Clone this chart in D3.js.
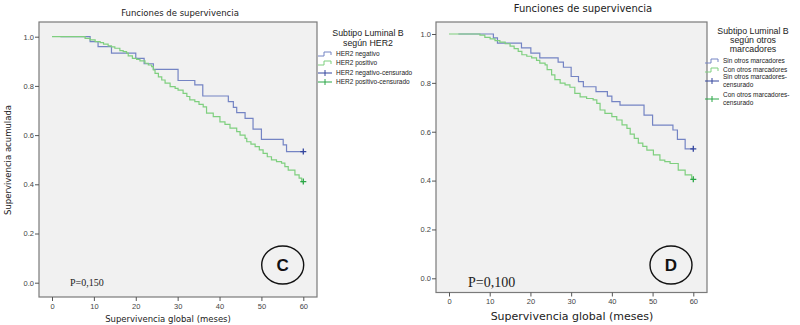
<!DOCTYPE html>
<html>
<head>
<meta charset="utf-8">
<script src="https://cdnjs.cloudflare.com/ajax/libs/d3/7.8.5/d3.min.js"></script>
<style>
  body { margin: 0; background: #fff; }
  svg { display: block; }
  .tick text { fill: #444; font-family: "Liberation Sans", Arial, sans-serif; font-size: 7.5px; }
  .tick line { stroke: #555; }
</style>
</head>
<body>
<svg id="chart" width="800" height="325"></svg>
<script>
const xTicks = [0, 10, 20, 30, 40, 50, 60];
const yTicks = [0, 0.2, 0.4, 0.6, 0.8, 1.0];

// panel C: [mes, supervivencia]
const her2Neg = [[2, 1], [9.1, 0.98], [11.0, 0.96], [14.2, 0.933], [20.0, 0.912], [22.0, 0.89],
  [24.2, 0.867], [30.1, 0.822], [34.1, 0.804], [36.0, 0.759], [42.1, 0.736], [43.3, 0.713],
  [44.1, 0.691], [46.1, 0.668], [48.0, 0.624], [50.0, 0.583], [55.2, 0.56], [56.0, 0.533]];
const her2Pos = [[0, 1], [7.9, 0.993], [9.1, 0.987], [10.3, 0.98], [11.5, 0.976], [12.3, 0.97],
  [13.4, 0.963], [14.2, 0.959], [15.0, 0.953], [16.2, 0.943], [17.0, 0.939], [17.8, 0.933],
  [18.2, 0.922], [19.2, 0.912], [20.2, 0.908], [21.0, 0.902], [22.2, 0.892], [23.0, 0.885],
  [23.8, 0.878], [24.2, 0.865], [24.6, 0.851], [25.4, 0.837], [26.2, 0.824], [27.0, 0.811],
  [28.2, 0.797], [29.4, 0.79], [30.1, 0.783], [31.3, 0.77], [32.2, 0.757], [32.9, 0.743],
  [34.1, 0.736], [35.1, 0.725], [36.1, 0.715], [36.9, 0.689], [38.5, 0.675], [40.1, 0.654],
  [41.3, 0.644], [42.5, 0.628], [44.1, 0.614], [44.9, 0.6], [46.1, 0.587], [46.5, 0.573],
  [47.5, 0.563], [48.5, 0.553], [49.5, 0.54], [50.4, 0.526], [51.4, 0.512], [52.4, 0.499],
  [53.6, 0.492], [54.8, 0.486], [55.6, 0.472], [56.4, 0.458], [58.0, 0.438], [59.0, 0.425],
  [59.6, 0.411]];

// panel D
const sinOtros = [[2.3, 1], [10.9, 0.984], [11.9, 0.963], [17.8, 0.943], [20.1, 0.922], [22.3, 0.902],
  [26.8, 0.885], [28.1, 0.864], [30.0, 0.826], [31.8, 0.805], [33.0, 0.784], [36.1, 0.764],
  [38.9, 0.746], [40.0, 0.723], [42.0, 0.709], [47.9, 0.668], [50.0, 0.627], [55.0, 0.607],
  [56.1, 0.569], [58.0, 0.53]];
const conOtros = [[0, 1], [7.6, 0.995], [8.8, 0.986], [10.1, 0.98], [11.3, 0.973], [12.5, 0.967],
  [13.8, 0.96], [15.0, 0.95], [16.0, 0.94], [17.0, 0.929], [17.9, 0.915], [19.1, 0.909],
  [20.3, 0.902], [21.5, 0.892], [22.3, 0.881], [23.6, 0.874], [24.1, 0.854], [25.2, 0.833],
  [26.0, 0.813], [27.3, 0.799], [28.5, 0.792], [29.7, 0.782], [30.9, 0.757], [32.2, 0.743],
  [33.8, 0.736], [35.4, 0.73], [36.3, 0.716], [37.1, 0.689], [38.3, 0.675], [40.0, 0.662],
  [41.2, 0.648], [42.5, 0.628], [43.7, 0.614], [44.5, 0.59], [45.5, 0.573], [46.5, 0.553],
  [47.6, 0.54], [48.6, 0.525], [50.2, 0.505], [51.8, 0.484], [53.0, 0.478], [54.3, 0.47],
  [56.3, 0.443], [58.0, 0.423], [59.6, 0.405]];

const endTime = 60;
const legendC = ["HER2 negativo", "HER2 positivo", "HER2 negativo-censurado", "HER2 positivo-censurado"];
const legendD = ["Sin otros marcadores", "Con otros marcadores", "Sin otros marcadores-|censurado", "Con otros marcadores-|censurado"];

const blueLine = "#7484c4", greenLine = "#7fcf7f";
const blueMark = "#34469e", greenMark = "#2aa646";
const svg = d3.select("#chart");

function drawPanel(p) {
  const g = svg.append("g");
  const x = d3.scaleLinear().domain([0, 60]).range(p.xr);
  const y = d3.scaleLinear().domain([0, 1]).range(p.yr);

  g.append("rect")
    .attr("x", p.box[0]).attr("y", p.box[1])
    .attr("width", p.box[2] - p.box[0]).attr("height", p.box[3] - p.box[1])
    .attr("fill", "#f1f1f1").attr("stroke", "#7a7a7a").attr("stroke-width", 1.2);

  const ya = g.append("g")
    .attr("transform", `translate(${p.box[0]},0)`)
    .call(d3.axisLeft(y).tickValues(yTicks).tickFormat(d3.format(".1f")).tickSize(4).tickPadding(1));
  ya.select(".domain").remove();

  const xa = g.append("g")
    .attr("transform", `translate(0,${p.box[3]})`)
    .call(d3.axisBottom(x).tickValues(xTicks).tickSize(4).tickPadding(p.xPad));
  xa.select(".domain").remove();

  const line = d3.line().curve(d3.curveStepAfter).x(d => x(d[0])).y(d => y(d[1]));
  p.series.forEach(s => {
    const pts = s.data.concat([[endTime, s.data[s.data.length - 1][1]]]);
    g.append("path").attr("d", line(pts))
      .attr("fill", "none").attr("stroke", s.color).attr("stroke-width", 1.2);
    const cx = x(endTime), cy = y(s.data[s.data.length - 1][1]);
    g.append("path").attr("d", `M${cx - 3},${cy}H${cx + 3}M${cx},${cy - 3}V${cy + 3}`)
      .attr("stroke", s.mark).attr("stroke-width", 1.3);
  });

  // titulo
  g.append("text").attr("x", p.title[0]).attr("y", p.title[1])
    .attr("text-anchor", "middle").attr("font-family", "DejaVu Sans, sans-serif")
    .attr("font-size", p.title[2]).attr("fill", "#222").text("Funciones de supervivencia");

  g.append("text").attr("x", p.xTitle[0]).attr("y", p.xTitle[1])
    .attr("text-anchor", "middle").attr("font-family", "DejaVu Sans, sans-serif")
    .attr("font-size", p.xTitle[2]).attr("fill", "#222").text("Supervivencia  global (meses)");

  if (p.yTitle) {
    g.append("text").attr("transform", `translate(${p.yTitle[0]},${p.yTitle[1]}) rotate(-90)`)
      .attr("text-anchor", "middle").attr("font-family", "DejaVu Sans, sans-serif")
      .attr("font-size", 8.5).attr("fill", "#222").text("Supervivencia acumulada");
  }

  // leyenda
  p.legTitle.forEach((t, i) => {
    g.append("text").attr("x", p.legX).attr("y", p.legY + i * p.legStep)
      .attr("text-anchor", "middle").attr("font-family", "Liberation Sans, Arial, sans-serif")
      .attr("font-size", 8.8).attr("fill", "#222").text(t);
  });
  const cols = [[blueLine, false], [greenLine, false], [blueMark, true], [greenMark, true]];
  p.items.forEach((label, i) => {
    const iy = p.itemY[i], sx = p.symX;
    if (!cols[i][1]) {
      g.append("path").attr("d", `M${sx},${iy + 2}H${sx + 6}V${iy - 2}H${sx + 13}V${iy + 1}`)
        .attr("fill", "none").attr("stroke", cols[i][0]).attr("stroke-width", 1);
    } else {
      g.append("path").attr("d", `M${sx},${iy}H${sx + 14}M${sx + 7},${iy - 3}V${iy + 3}`)
        .attr("stroke", cols[i][0]).attr("stroke-width", 1);
    }
    const lines = label.split("|");
    lines.forEach((l, j) => {
      g.append("text").attr("x", sx + 18)
        .attr("y", iy + 2.3 + (j - (lines.length - 1) / 2) * 8)
        .attr("font-family", "Liberation Sans, Arial, sans-serif")
        .attr("font-size", 6.5).attr("fill", "#222").text(l);
    });
  });

  // etiqueta del panel
  g.append("ellipse").attr("cx", p.tag[0]).attr("cy", p.tag[1]).attr("rx", 21).attr("ry", 19)
    .attr("fill", "none").attr("stroke", "#111").attr("stroke-width", 1.4);
  g.append("text").attr("x", p.tag[0]).attr("y", p.tag[1] + 6)
    .attr("text-anchor", "middle").attr("font-family", "Liberation Sans, Arial, sans-serif")
    .attr("font-weight", "bold").attr("font-size", 17).attr("fill", "#111").text(p.tag[2]);

  g.append("text").attr("x", p.pval[0]).attr("y", p.pval[1])
    .attr("font-family", "Liberation Serif, Times New Roman, serif")
    .attr("font-size", p.pval[2]).attr("fill", "#222").text(p.pval[3]);
}

drawPanel({
  box: [39, 22, 317, 297], xr: [52, 303.3], yr: [282.7, 36.7], xPad: 3,
  series: [{ data: her2Neg, color: blueLine, mark: blueMark }, { data: her2Pos, color: greenLine, mark: greenMark }],
  title: [180, 16, 8.5], xTitle: [168, 322, 8.5], yTitle: [11, 160],
  legTitle: ["Subtipo Luminal B", "según HER2"], legX: 368, legY: 36, legStep: 9.5,
  items: legendC, itemY: [54, 63, 73, 82], symX: 318,
  tag: [282.7, 265, "C"], pval: [70, 286, 10, "P=0,150"]
});

drawPanel({
  box: [436, 22, 707, 292.5], xr: [449, 693.3], yr: [278.3, 34], xPad: 2,
  series: [{ data: sinOtros, color: blueLine, mark: blueMark }, { data: conOtros, color: greenLine, mark: greenMark }],
  title: [583, 12, 10], xTitle: [572, 320, 11],
  legTitle: ["Subtipo Luminal B", "según otros", "marcadores"], legX: 753, legY: 34, legStep: 9,
  items: legendD, itemY: [61, 70, 81, 99], symX: 705,
  tag: [671, 265, "D"], pval: [468, 287, 14, "P=0,100"]
});
</script>
</body>
</html>
